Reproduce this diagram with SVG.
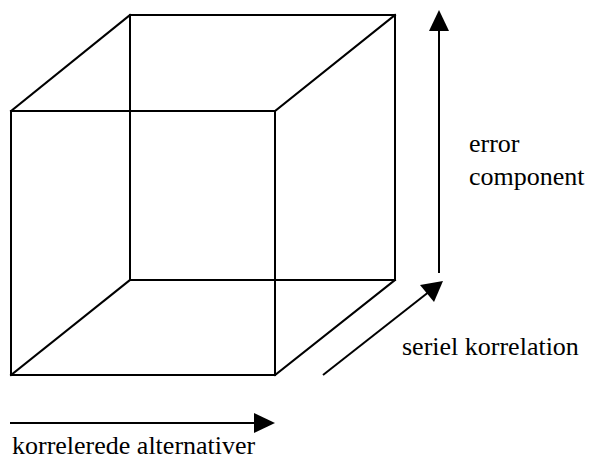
<svg xmlns="http://www.w3.org/2000/svg" width="591" height="459" viewBox="0 0 591 459">
  <style>
    .edge { stroke: #000; stroke-width: 2; fill: none; stroke-linecap: square; }
    .axis { stroke: #000; stroke-width: 2; fill: none; }
    .head { fill: #000; stroke: none; }
    .label { font-size: 26px; fill: #000; }
  </style>
  <!-- wireframe cube -->
  <g id="cube">
    <rect class="edge" x="11" y="111" width="264" height="264"/>
    <rect class="edge" x="130" y="15" width="265" height="265"/>
    <line class="edge" x1="11" y1="111" x2="130" y2="15"/>
    <line class="edge" x1="275" y1="111" x2="395" y2="15"/>
    <line class="edge" x1="11" y1="375" x2="130" y2="280"/>
    <line class="edge" x1="275" y1="375" x2="395" y2="280"/>
  </g>
  <!-- axis arrows -->
  <g id="connectors">
    <line class="axis" x1="439" y1="273" x2="439" y2="28"/>
    <polygon class="head" points="439,10 429,31 449,31"/>
    <line class="axis" x1="323" y1="375" x2="430" y2="291"/>
    <polygon class="head" points="443,281 420,285 434,302"/>
    <line class="axis" x1="10" y1="423" x2="256" y2="423"/>
    <polygon class="head" points="275,423 254,413 254,433"/>
  </g>
  <g id="label-error" font-family="'Liberation Serif', 'DejaVu Serif', serif">
    <text class="label" x="469" y="152">error</text>
    <text class="label" x="469" y="185">component</text>
  </g>
  <g id="label-serial" font-family="'Liberation Serif', 'DejaVu Serif', serif">
    <text class="label" x="402" y="355">seriel korrelation</text>
  </g>
  <g id="label-alternatives" font-family="'Liberation Serif', 'DejaVu Serif', serif">
    <text class="label" x="12" y="454">korrelerede alternativer</text>
  </g>
</svg>
